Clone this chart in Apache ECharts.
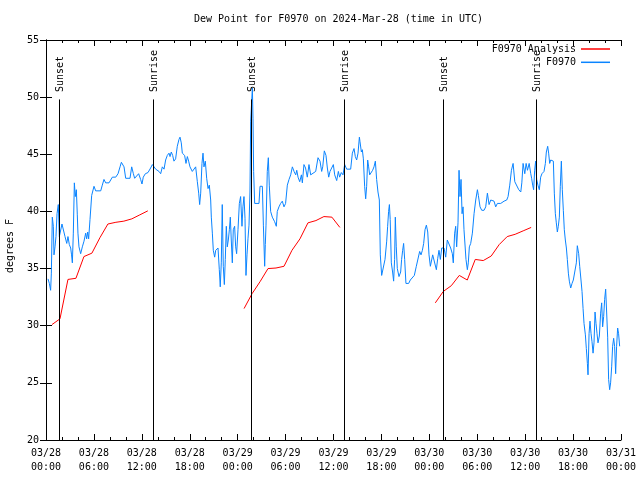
<!DOCTYPE html>
<html>
<head>
<meta charset="utf-8">
<script src="https://cdn.jsdelivr.net/npm/echarts@6/dist/echarts.min.js"></script>
<style>html,body{margin:0;padding:0;background:#fff}#c{width:640px;height:480px}</style>
</head>
<body>
<div id="c"></div>
<script>
// hours since 2024-03-28 00:00 UTC
const blueHours = [0.25,0.42,0.58,0.67,0.79,0.92,1.0,1.13,1.25,1.38,1.54,1.67,1.83,2.0,2.25,2.38,2.6,2.75,2.92,3.09,3.2,3.3,3.42,3.55,3.67,3.8,3.92,4.0,4.13,4.34,4.55,4.76,4.97,5.09,5.22,5.34,5.51,5.72,6.01,6.22,6.85,7.05,7.26,7.47,7.89,8.31,8.73,9.02,9.27,9.44,9.64,9.77,9.98,10.52,10.73,10.94,11.1,11.35,11.6,11.85,12.02,12.18,12.44,12.77,
13.1,13.32,13.53,13.73,14.15,14.36,14.57,14.78,14.98,15.19,15.4,15.53,15.69,15.86,16.02,16.23,16.44,16.65,16.78,16.94,17.07,17.2,17.36,17.53,17.7,17.86,18.03,18.32,18.53,18.74,18.95,19.12,19.24,19.37,19.53,19.66,19.78,19.95,20.12,20.29,20.45,20.62,20.7,20.83,20.95,21.12,21.25,21.54,21.7,21.82,21.95,22.07,22.2,22.33,22.45,22.58,22.7,22.83,22.96,23.08,23.2,23.33,23.45,23.62,23.75,23.87,24.04,24.21,24.37,24.54,24.66,
24.79,24.92,25.04,25.17,25.29,25.42,25.54,25.63,25.75,25.84,25.92,26.0,26.13,26.67,26.8,27.09,27.22,27.38,27.46,27.55,27.71,27.84,27.96,28.13,28.34,28.63,28.84,28.96,29.17,29.38,29.59,29.8,30.0,30.22,30.43,30.64,30.85,31.06,31.27,31.4,31.56,31.77,31.98,32.1,32.3,32.5,32.72,32.93,33.14,33.35,33.77,34.06,34.31,34.52,34.65,34.85,35.06,35.23,35.4,35.56,35.77,35.98,36.15,36.4,36.61,36.77,36.98,37.19,37.4,37.65,
38.15,38.36,38.57,38.73,38.9,39.07,39.24,39.32,39.49,39.61,39.74,39.9,40.03,40.15,40.28,40.4,40.53,40.74,40.9,41.07,41.24,41.4,41.57,41.74,41.86,42.03,42.24,42.45,42.66,42.78,42.9,43.0,43.1,43.24,43.4,43.53,43.65,43.74,43.86,43.99,44.2,44.41,44.53,44.66,44.78,44.91,45.07,45.41,45.62,45.87,46.12,46.37,46.62,46.79,46.96,47.13,47.29,47.46,47.63,47.8,47.96,48.13,48.25,48.42,48.67,48.88,49.05,49.21,49.38,49.55,
49.84,50.05,50.25,50.46,50.67,50.88,51.0,51.17,51.3,51.42,51.59,51.72,51.84,51.97,52.1,52.22,52.34,52.47,52.59,52.76,52.88,53.01,53.18,53.39,53.6,53.81,54.02,54.14,54.35,54.56,54.85,55.06,55.27,55.48,55.69,55.9,56.1,56.31,56.52,56.94,57.36,57.69,57.86,58.07,58.28,58.49,58.7,58.95,59.2,59.45,59.58,59.74,59.95,60.12,60.29,60.5,
60.7,60.81,60.94,61.06,61.19,61.31,61.44,61.6,61.77,61.94,62.1,62.36,62.53,62.65,62.82,62.94,63.07,63.2,63.36,63.53,63.65,63.78,63.9,64.03,64.15,64.28,64.4,64.53,64.65,64.78,64.9,65.03,65.16,65.28,65.41,65.53,65.7,65.87,66.03,66.24,66.41,66.53,66.7,66.83,66.99,67.12,67.25,67.37,67.54,67.66,67.79,67.87,68.0,68.12,68.25,68.37,68.5,68.62,68.75,68.87,69.0,69.12,69.29,69.45,69.58,69.7,69.83,69.95,70.08,70.2,70.33,70.45,70.58,70.7,70.83,70.95,71.08,71.2,71.33,71.45,71.58,71.7,71.83];
const blueValues = [34.1,33.7,33.1,34.6,39.5,38.7,36.2,36.9,37.8,39.8,40.6,37.8,37.9,38.9,38.9,37.8,37.2,37.8,37.1,36.8,36.2,35.5,38.1,42.5,41.3,41.9,39.7,38.1,36.9,36.3,36.9,37.4,38.1,37.6,38.2,37.6,39.3,41.4,42.2,41.8,41.8,42.3,42.8,42.5,42.5,43.0,43.0,43.3,43.9,44.3,44.3,43.9,42.9,42.9,43.9,43.3,42.9,42.9,43.3,42.8,42.4,43.0,43.3,43.4,
43.8,44.1,43.9,43.7,43.5,43.3,43.9,43.7,44.5,44.9,45.1,44.8,45.2,44.9,44.4,44.6,45.7,46.3,46.5,46.0,45.1,45.2,44.9,44.2,44.8,44.4,43.9,43.5,43.6,43.9,42.6,41.6,40.6,41.6,44.2,45.1,43.9,44.4,42.9,42.0,42.3,41.0,39.5,38.1,36.6,36.0,36.6,36.8,34.9,33.4,35.5,40.6,35.2,33.6,35.8,38.7,36.9,37.5,38.4,39.5,37.5,35.5,38.4,38.7,36.9,36.3,38.4,40.7,41.3,38.7,40.4,
41.3,39.4,34.4,36.2,37.6,38.8,41.7,47.9,47.9,50.8,48.1,43.5,40.7,40.7,42.2,42.2,38.8,35.2,37.1,38.8,43.5,44.7,42.3,40.0,39.5,39.1,38.7,40.0,40.4,40.7,40.9,40.4,40.7,42.3,42.8,43.2,43.9,43.5,43.2,43.6,43.0,42.6,43.2,42.5,44.1,43.8,43.0,44.1,43.2,43.3,43.5,44.7,44.4,43.5,43.9,45.3,44.9,43.8,43.0,43.5,43.8,44.1,43.2,42.7,43.5,43.0,43.4,43.2,44.1,43.7,
43.7,45.1,45.5,44.8,44.5,45.1,46.5,46.1,45.2,45.4,44.6,42.2,41.1,42.2,44.5,43.9,43.2,43.3,43.6,43.9,44.4,42.8,41.7,41.0,36.2,34.4,34.4,35.8,37.4,38.7,40.0,40.6,39.3,35.5,34.7,33.9,35.8,39.5,36.9,35.0,34.3,34.7,35.8,36.6,37.2,35.8,33.7,33.7,34.0,34.1,34.4,35.2,35.3,36.5,36.2,36.6,37.2,38.4,38.8,38.2,36.2,35.2,35.3,36.2,36.2,34.9,35.9,36.6,35.8,36.8,
36.8,36.0,37.5,37.5,36.8,36.3,35.5,38.1,38.7,36.9,39.0,43.6,41.3,42.8,39.8,40.4,38.4,38.4,35.8,34.9,35.5,36.9,37.2,38.1,39.8,41.0,41.9,41.4,40.4,40.1,40.1,40.4,41.6,40.6,41.0,41.1,40.9,40.4,40.7,40.7,40.9,41.0,41.3,42.3,43.6,44.2,42.6,42.5,41.9,41.7,42.5,44.2,43.3,44.2,43.6,44.2,
43.3,42.9,42.3,41.9,43.6,44.4,42.8,42.3,41.9,43.0,43.3,43.5,44.2,45.2,45.7,45.1,44.2,44.5,44.6,44.4,41.6,39.8,39.0,38.2,38.7,39.5,42.2,44.4,41.9,40.1,38.4,37.5,36.8,35.8,34.6,33.9,33.3,33.7,34.0,34.1,35.5,37.0,36.3,35.2,34.0,33.0,31.5,30.2,29.2,28.0,26.7,25.7,29.3,30.4,29.3,28.6,27.6,28.5,31.2,30.2,29.3,28.5,29.1,31.1,32.0,29.9,30.8,32.3,33.2,31.2,29.0,25.3,24.4,25.0,26.4,28.2,28.9,28.2,25.8,28.2,29.8,29.3,28.2];

const redHours = [0.75,1.75,2.75,3.75,4.75,5.75,6.75,7.75,8.75,9.75,10.75,11.75,12.75,null,
24.8,25.8,26.8,27.8,28.8,29.8,30.8,31.8,32.8,33.8,34.8,35.8,36.8,null,
48.75,49.75,50.75,51.75,52.75,53.75,54.75,55.75,56.75,57.75,58.75,59.75,60.75];
const redValues = [30.1,30.6,34.05,34.15,36.05,36.35,37.7,38.9,39.05,39.15,39.35,39.7,40.05,null,
31.5,32.8,33.85,35.0,35.05,35.2,36.6,37.6,39.0,39.2,39.55,39.5,38.6,null,
32.0,33.0,33.5,34.4,34.0,35.8,35.7,36.1,37.1,37.8,38.0,38.3,38.6];

const eventHours = [1.67,13.44,25.67,37.36,49.75,61.4];
const eventLabels = ['Sunset','Sunrise','Sunset','Sunrise','Sunset','Sunrise'];
const xTickStep = 6;
const yTicks = [20,25,30,35,40,45,50,55];

const FONT = 'DejaVu Sans Mono';
const blueData = blueHours.map((h,i)=>[h, blueValues[i]]);
const redData = redHours.map((h,i)=> h===null ? [ (redHours[i-1]+redHours[i+1])/2, '-' ] : [h, redValues[i]]);

function xLabel(h){
  const day = 28 + Math.floor(h/24);
  const hr = Math.round(h % 24);
  return '03/' + day + '\n' + String(hr).padStart(2,'0') + ':00';
}

const chart = echarts.init(document.getElementById('c'), null, {renderer:'canvas'});
const axisCommon = {
  axisLine:{show:true, lineStyle:{color:'#000', width:1}},
  splitLine:{show:false}
};
chart.setOption({
  animation:false,
  backgroundColor:'#fff',
  title:{text:'Dew Point for F0970 on 2024-Mar-28 (time in UTC)', left:333.5, top:9, textAlign:'center',
    textStyle:{fontFamily:FONT, fontSize:10, fontWeight:'normal', color:'#000'}},
  grid:{left:46, right:19, top:40, bottom:40},
  legend:{orient:'vertical', right:30, top:43, align:'right', padding:0, icon:'rect',
    itemWidth:29, itemHeight:1.5, itemGap:1.3,
    textStyle:{fontFamily:FONT, fontSize:10, color:'#000', lineHeight:12},
    data:['F0970 Analysis','F0970']},
  xAxis:[
    Object.assign({type:'value', min:0, max:72, interval:xTickStep, position:'bottom',
      axisTick:{show:true, inside:true, length:6, lineStyle:{color:'#000'}},
      minorTick:{show:true, splitNumber:3, length:3, lineStyle:{color:'#000'}},
      axisLabel:{formatter:xLabel, fontFamily:FONT, fontSize:10, color:'#000', lineHeight:14, margin:6}}, axisCommon),
    Object.assign({type:'value', min:0, max:72, interval:xTickStep, position:'top',
      axisTick:{show:true, inside:true, length:6, lineStyle:{color:'#000'}},
      minorTick:{show:true, splitNumber:3, length:3, lineStyle:{color:'#000'}},
      axisLabel:{show:false}}, axisCommon)
  ],
  yAxis:[
    Object.assign({type:'value', min:yTicks[0], max:yTicks[yTicks.length-1], interval:5, position:'left',
      axisTick:{show:true, inside:true, length:6, lineStyle:{color:'#000'}},
      axisLabel:{fontFamily:FONT, fontSize:10, color:'#000', margin:7}}, axisCommon),
    Object.assign({type:'value', min:yTicks[0], max:yTicks[yTicks.length-1], interval:5, position:'right',
      axisTick:{show:true, inside:true, length:6, lineStyle:{color:'#000'}},
      axisLabel:{show:false}}, axisCommon)
  ],
  series:[
    {name:'F0970 Analysis', type:'line', data:redData, symbol:'none', connectNulls:false,
      lineStyle:{color:'#ff0000', width:1}, itemStyle:{color:'#ff0000'}, z:3,
      markLine:{silent:true, symbol:'none', label:{show:false},
        lineStyle:{color:'#000', width:1, type:'solid'},
        data: eventHours.map(h=>[{coord:[h,20]},{coord:[h,49.8]}])}},
    {name:'F0970', type:'line', data:blueData, symbol:'none',
      lineStyle:{color:'#0a84ff', width:1}, itemStyle:{color:'#0a84ff'}, z:4}
  ]
});

const g = [];
eventHours.forEach((h,i)=>{
  const p = chart.convertToPixel({xAxisIndex:0, yAxisIndex:0}, [h, 50.45]);
  g.push({type:'text', x:p[0]+1, y:p[1], rotation:Math.PI/2,
    style:{text:eventLabels[i], font:'10px "'+FONT+'"', fill:'#000', align:'left', verticalAlign:'middle'}, z:10});
});
g.push({type:'text', x:10, y:246, rotation:Math.PI/2,
  style:{text:'degrees F', font:'10px "'+FONT+'"', fill:'#000', align:'center', verticalAlign:'middle'}});
chart.setOption({graphic:g});
</script>
</body>
</html>
